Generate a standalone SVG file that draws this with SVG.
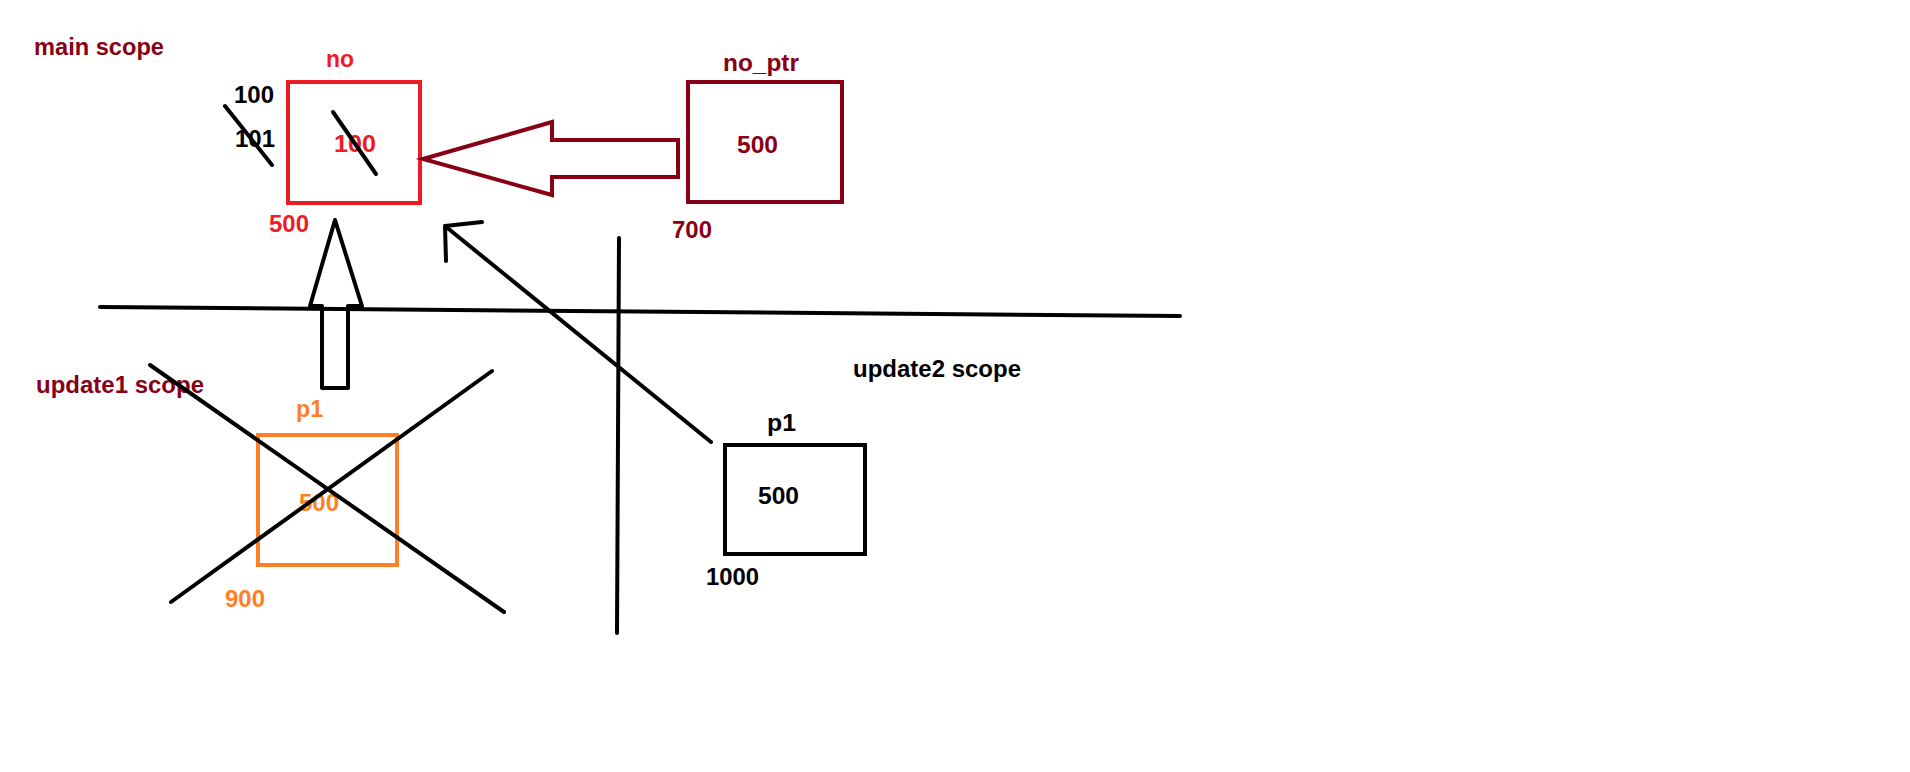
<svg xmlns="http://www.w3.org/2000/svg" width="1910" height="772" viewBox="0 0 1910 772">
<style>
text{font-family:"Liberation Sans",Arial,sans-serif;font-weight:bold;font-size:23px}
.dr{fill:#880015}.rd{fill:#ED1C24}.or{fill:#FF7F27}.bk{fill:#000}
.box{fill:none;stroke-width:4}
.ln{fill:none;stroke:#000;stroke-width:4;stroke-linecap:round;stroke-linejoin:round}
</style>
<rect width="1910" height="772" fill="#fff"/>
<g id="labels">
<text class="dr" x="34" y="55" textLength="130" lengthAdjust="spacingAndGlyphs">main scope</text>
<text class="dr" x="36" y="393" textLength="168" lengthAdjust="spacingAndGlyphs">update1 scope</text>
<text class="bk" x="853" y="377" textLength="168" lengthAdjust="spacingAndGlyphs">update2 scope</text>
</g>
<g id="scope-lines">
<line class="ln" x1="100" y1="307" x2="1180" y2="316"/>
<line class="ln" x1="619" y1="238" x2="617" y2="633"/>
</g>
<g id="node-no">
<rect class="box" x="288" y="82" width="132" height="121" stroke="#ED1C24"/>
<text class="rd" x="326" y="67" textLength="28" lengthAdjust="spacingAndGlyphs">no</text>
<text class="rd" x="334" y="152" textLength="42" lengthAdjust="spacingAndGlyphs">100</text>
<line class="ln" x1="333" y1="112" x2="376" y2="174"/>
<text class="bk" x="234" y="103" textLength="40" lengthAdjust="spacingAndGlyphs">100</text>
<text class="bk" x="235" y="147" textLength="40" lengthAdjust="spacingAndGlyphs">101</text>
<line class="ln" x1="225" y1="106" x2="272" y2="165"/>
<text class="rd" x="269" y="232" textLength="40" lengthAdjust="spacingAndGlyphs">500</text>
</g>
<g id="node-no_ptr">
<rect class="box" x="688" y="82" width="154" height="120" stroke="#880015"/>
<text class="dr" x="723" y="71" textLength="76" lengthAdjust="spacingAndGlyphs">no_ptr</text>
<text class="dr" x="737" y="153" textLength="41" lengthAdjust="spacingAndGlyphs">500</text>
<text class="dr" x="672" y="238" textLength="40" lengthAdjust="spacingAndGlyphs">700</text>
</g>
<g id="node-p1-update1">
<rect class="box" x="258" y="435" width="139" height="130" stroke="#FF7F27"/>
<text class="or" x="296" y="417" textLength="27" lengthAdjust="spacingAndGlyphs">p1</text>
<text class="or" x="299" y="511" textLength="40" lengthAdjust="spacingAndGlyphs">500</text>
<text class="or" x="225" y="607" textLength="40" lengthAdjust="spacingAndGlyphs">900</text>
<line class="ln" x1="150" y1="365" x2="504" y2="612"/>
<line class="ln" x1="171" y1="602" x2="492" y2="371"/>
</g>
<g id="node-p1-update2">
<rect class="box" x="725" y="445" width="140" height="109" stroke="#000"/>
<text class="bk" x="767" y="431" textLength="29" lengthAdjust="spacingAndGlyphs">p1</text>
<text class="bk" x="758" y="504" textLength="41" lengthAdjust="spacingAndGlyphs">500</text>
<text class="bk" x="706" y="585" textLength="53" lengthAdjust="spacingAndGlyphs">1000</text>
</g>
<g id="connectors">
<polygon points="423,159 552,122 552,140 678,140 678,177 552,177 552,195" fill="none" stroke="#880015" stroke-width="4" stroke-linejoin="miter"/>
<polygon class="ln" points="335,220 362,306 348,306 348,388 322,388 322,306 310,306"/>
<line class="ln" x1="711" y1="442" x2="445" y2="226"/>
<polyline class="ln" points="482,222 445,226 446,261"/>
</g>
</svg>
